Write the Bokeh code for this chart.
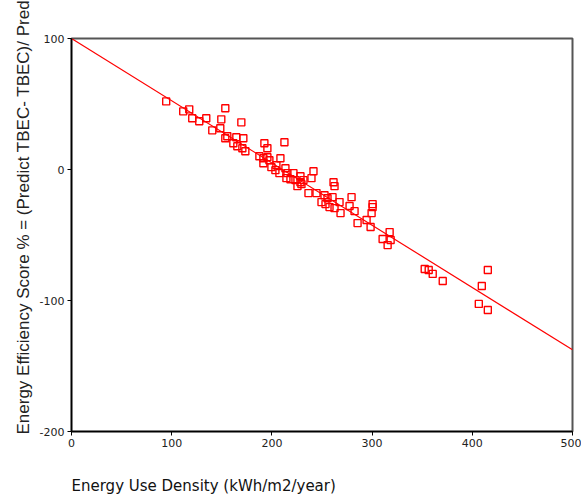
from bokeh.plotting import figure
from bokeh.models import FixedTicker, Range1d, Title, PrintfTickFormatter
from bokeh.embed import file_html
from bokeh.resources import INLINE

# Energy Use Density (kWh/m2/year)
eud = [94.5, 111.5, 117.5, 120.5, 127.5, 134.5, 140.5, 148.5, 149.5, 153.5,
       155.5, 153.5, 164.5, 171.5, 169.5, 161.5, 165.5, 170.5, 173.5, 192.5,
       195.5, 212.5, 187.5, 191.5, 195.5, 197.5, 191.5, 208.5, 204.5, 199.5,
       203.5, 207.5, 213.5, 215.5, 221.5, 214.5, 218.5, 223.5, 228.5, 228.5,
       225.5, 229.5, 231.5, 239.5, 241.5, 236.5, 244.5, 252.5, 255.5, 249.5,
       253.5, 257.5, 260.5, 261.5, 262.5, 267.5, 262.5, 268.5, 279.5, 277.5,
       282.5, 285.5, 294.5, 298.5, 299.5, 300.5, 300.5, 317.5, 310.5, 318.5,
       315.5, 352.5, 356.5, 360.5, 370.5, 415.5, 409.5, 406.5, 415.5]
# Energy Efficiency Score %
score = [52.0, 44.4, 45.9, 39.1, 36.8, 39.1, 29.9, 31.5, 38.3, 46.7,
         25.4, 23.8, 24.6, 23.8, 36.0, 20.0, 17.7, 16.2, 13.9, 20.0,
         16.2, 20.8, 10.1, 8.6, 9.4, 7.1, 4.8, 8.6, 3.3, 1.8,
         -0.5, -2.8, 1.0, -2.8, -2.8, -6.6, -7.4, -8.1, -5.1, -9.7,
         -12.7, -11.2, -8.1, -6.6, -1.3, -18.0, -18.0, -19.6, -21.9, -24.9,
         -26.4, -28.7, -21.1, -9.7, -12.7, -24.9, -29.5, -33.3, -21.1, -27.9,
         -31.8, -40.9, -38.6, -43.9, -33.3, -26.4, -28.7, -47.8, -53.1, -53.8,
         -57.7, -75.9, -76.7, -79.7, -85.1, -76.7, -88.9, -102.6, -107.2]

# fitted line end points
fit_x = [0, 500]
fit_y = [100, -137.6]

x_ticks = [0, 100, 200, 300, 400, 500]
y_ticks = [-200, -100, 0, 100]

p = figure(width=581, height=498, output_backend="svg", toolbar_location=None,
           x_range=Range1d(0, 500), y_range=Range1d(-200, 100),
           min_border_left=71, min_border_right=9, min_border_top=38,
           min_border_bottom=66)

p.xgrid.visible = False
p.ygrid.visible = False
p.background_fill_color = "white"
p.border_fill_color = "white"
p.outline_line_color = "#555555"
p.outline_line_width = 2

p.line(fit_x, fit_y, line_color="red", line_width=1.2)
p.scatter(eud, score, marker="square", size=7, fill_color=None,
          line_color="red", line_width=1.4)

for ax in (p.xaxis[0], p.yaxis[0]):
    ax.axis_line_color = "black"
    ax.axis_line_width = 1.5
    ax.major_tick_line_color = "black"
    ax.major_tick_out = 4
    ax.major_tick_in = 0
    ax.minor_tick_line_color = None
    ax.major_label_text_font = "DejaVu Sans"
    ax.major_label_text_font_size = "11px"
    ax.major_label_text_color = "#222222"
    ax.major_label_standoff = 3
    ax.formatter = PrintfTickFormatter(format="%d")

p.xaxis[0].ticker = FixedTicker(ticks=x_ticks)
p.yaxis[0].ticker = FixedTicker(ticks=y_ticks)

ytitle = Title(text="Energy Efficiency Score % = (Predict TBEC- TBEC)/ Predict TBEC",
               align="left", offset=-3, standoff=8,
               text_font="Liberation Sans", text_font_size="17px",
               text_font_style="normal", text_color="#222222")
p.add_layout(ytitle, "left")

spacer = Title(text=" ", standoff=2, text_font_size="15px")
p.add_layout(spacer, "below")

xtitle = Title(text="Energy Use Density (kWh/m2/year)",
               align="left", offset=0, standoff=8,
               text_font="DejaVu Sans", text_font_size="15px",
               text_font_style="normal", text_color="#111111")
p.add_layout(xtitle, "below")

open("out.html", "w").write(file_html(p, INLINE))
